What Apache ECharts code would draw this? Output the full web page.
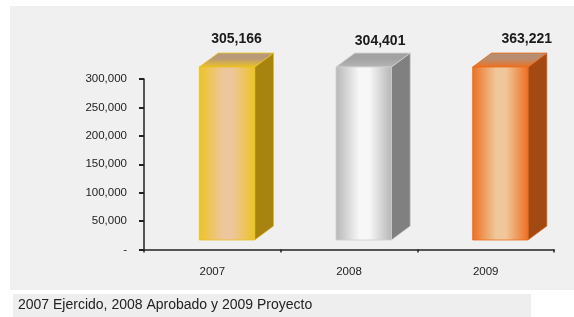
<!DOCTYPE html>
<html>
<head>
<meta charset="utf-8">
<script src="https://cdn.jsdelivr.net/npm/echarts@6/dist/echarts.min.js"></script>
<style>
  html, body { margin: 0; padding: 0; background: #fff; }
  #chart { width: 574px; height: 317px; }
</style>
</head>
<body>
<div id="chart"></div>
<script>
// datos
const years = ['2007', '2008', '2009'];
const amounts = [305166, 304401, 363221];
const yTicks = [0, 50000, 100000, 150000, 200000, 250000, 300000];
const caption = '2007 Ejercido, 2008 Aprobado y 2009 Proyecto';

// colores de cada barra (borde, centro, lado, tapa)
const barColors = [
    { edge: '#EDC325', mid: '#EEC69B', side: '#A6840F', top: '#B99A78', stroke: '#E8C01C' },
    { edge: '#B6B6B6', mid: '#F7F7F7', side: '#808080', top: '#A2A2A2', stroke: '#CFCFCF' },
    { edge: '#EE6F22', mid: '#EFC79A', side: '#A34912', top: '#B88E70', stroke: '#EE6A15' }
];
// pequeño ajuste de las etiquetas como en el original
const labelShift = [[0, 0], [7, 2.5], [17, 0]];

const yMax = yTicks[yTicks.length - 1];
const font = 'Liberation Sans, Arial, sans-serif';

const chart = echarts.init(document.getElementById('chart'));

function renderBox(params, api) {
    const idx = api.value(0);
    const v = api.value(1);
    const bw = api.size([1, 0])[0];
    const base = api.coord([idx, 0]);
    const topY = api.coord([idx, Math.min(v, yMax)])[1];
    const c = barColors[idx];

    const fl = base[0] - 0.095 * bw;
    const fr = base[0] + 0.31 * bw;
    const dx = 0.138 * bw;
    const dy = 0.102 * bw;
    const ft = topY - 12;
    const fb = base[1] - 9.5;

    const front = new echarts.graphic.LinearGradient(0, 0, 1, 0, [
        { offset: 0, color: c.edge },
        { offset: 0.42, color: c.mid },
        { offset: 0.6, color: c.mid },
        { offset: 1, color: c.edge }
    ]);
    const lid = new echarts.graphic.LinearGradient(0, 1, 0, 0, [
        { offset: 0, color: c.edge },
        { offset: 0.6, color: c.top },
        { offset: 1, color: c.top }
    ]);

    const sh = labelShift[idx];
    return {
        type: 'group',
        children: [
            {
                type: 'polygon',
                shape: { points: [[fr, ft], [fr + dx, ft - dy], [fr + dx, fb - dy], [fr, fb]] },
                style: { fill: c.side, stroke: c.stroke, lineWidth: 0.6 }
            },
            {
                type: 'polygon',
                shape: { points: [[fl, ft], [fl + dx, ft - dy], [fr + dx, ft - dy], [fr, ft]] },
                style: { fill: lid, stroke: c.stroke, lineWidth: 0.8 }
            },
            {
                type: 'rect',
                shape: { x: fl, y: ft, width: fr - fl, height: fb - ft },
                style: { fill: front, stroke: c.stroke, lineWidth: 0.8 }
            },
            {
                type: 'text',
                x: (fl + fr + dx) / 2 + sh[0],
                y: ft - dy - 14 + sh[1],
                style: {
                    text: v.toLocaleString('en-US'),
                    align: 'center',
                    verticalAlign: 'middle',
                    fontFamily: font,
                    fontSize: 14,
                    fontWeight: 'bold',
                    fill: '#1a1a1a'
                }
            }
        ]
    };
}

chart.setOption({
    animation: false,
    textStyle: { fontFamily: font },
    graphic: [
        {
            type: 'rect', z: -10, silent: true,
            shape: { x: 10, y: 6, width: 564, height: 284 },
            style: { fill: '#F0F0F0' }
        },
        {
            type: 'rect', z: -10, silent: true,
            shape: { x: 13, y: 294, width: 518, height: 23 },
            style: { fill: '#EEEEEE' }
        },
        {
            type: 'text', left: 18, top: 298,
            style: { text: caption, fontFamily: font, fontSize: 14, fill: '#222' }
        }
    ],
    grid: { left: 144, right: 20, top: 79, bottom: 67.5 },
    xAxis: {
        type: 'category',
        data: years,
        axisLine: { lineStyle: { color: '#222', width: 1.5 } },
        axisTick: { show: true, length: 3, lineStyle: { color: '#222', width: 1.5 } },
        axisLabel: { margin: 16, fontSize: 11.5, color: '#222', fontFamily: font }
    },
    yAxis: {
        type: 'value',
        min: 0,
        max: yMax,
        interval: yTicks[1] - yTicks[0],
        splitLine: { show: false },
        axisLine: { show: true, lineStyle: { color: '#222', width: 1.5 } },
        axisTick: { show: true, length: 5, lineStyle: { color: '#222', width: 2 } },
        axisLabel: {
            margin: 17, fontSize: 11.5, color: '#222', fontFamily: font,
            formatter: v => v === 0 ? '-' : v.toLocaleString('en-US')
        }
    },
    series: [{
        type: 'custom',
        renderItem: renderBox,
        encode: { x: 0, y: 1 },
        data: years.map((y, i) => [i, amounts[i]])
    }]
});
</script>
</body>
</html>
